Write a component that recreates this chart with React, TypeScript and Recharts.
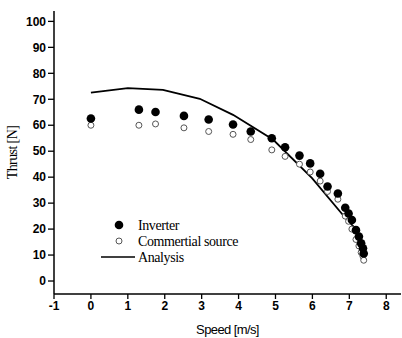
import React from "react";
import {
  ComposedChart,
  Scatter,
  Line,
  XAxis,
  YAxis,
} from "recharts";

const speedPoints = [0, 1.3, 1.75, 2.52, 3.19, 3.85, 4.33, 4.9, 5.26, 5.65, 5.94, 6.21, 6.41, 6.69, 6.89, 6.98, 7.07, 7.18, 7.26, 7.32, 7.37, 7.39];
const inverterThrust = [62.6, 66.0, 65.1, 63.6, 62.2, 60.3, 57.6, 55.0, 51.5, 48.3, 45.3, 41.3, 36.4, 33.7, 28.2, 26.0, 23.5, 19.6, 17.1, 14.5, 12.6, 10.6];
const commercialThrust = [60.0, 60.0, 60.5, 59.0, 57.6, 56.5, 54.5, 50.5, 48.0, 45.0, 42.0, 38.5, 34.5, 31.5, 25.0, 23.0, 20.0, 16.0, 13.5, 11.0, 9.5, 8.0];

const analysisSpeed = [0, 1, 1.95, 2.95, 3.85, 4.94, 5.99, 6.94, 7.21, 7.39];
const analysisThrust = [72.6, 74.3, 73.6, 70.2, 64.0, 54.4, 39.6, 23.5, 19.6, 12.6];

const xTicks = [-1, 0, 1, 2, 3, 4, 5, 6, 7, 8];
const yTicks = [0, 10, 20, 30, 40, 50, 60, 70, 80, 90, 100];
const yMinorTicks = [0, 5, 10, 15, 20, 25, 30, 35, 40, 45, 50, 55, 60, 65, 70, 75, 80, 85, 90, 95, 100];

const inverterData = speedPoints.map((x, i) => ({ x, y: inverterThrust[i] }));
const commercialData = speedPoints.map((x, i) => ({ x, y: commercialThrust[i] }));
const analysisData = analysisSpeed.map((x, i) => ({ x, y: analysisThrust[i] }));

const tickFont = { fontFamily: "Liberation Sans, Arial, sans-serif", fontSize: 12, fontWeight: 700, fill: "#000" };

function LegendBox() {
  return (
    <svg width={150} height={50} style={{ position: "absolute", left: 101, top: 218, overflow: "visible" }}>
      <g fontFamily="Liberation Serif, Times New Roman, serif" fontSize={14} fill="#000" letterSpacing={-0.4}>
        <circle cx={18} cy={7} r={4.3} fill="#000" />
        <text x={37} y={12}>Inverter</text>
        <circle cx={18} cy={23} r={3} fill="#fff" stroke="#555" strokeWidth={1} />
        <text x={37} y={28}>Commertial source</text>
        <line x1={0} y1={39} x2={34} y2={39} stroke="#000" strokeWidth={1.6} />
        <text x={37} y={44}>Analysis</text>
      </g>
    </svg>
  );
}

const RightTick = (props: any) => {
  const { x, y, payload } = props;
  const major = payload.value % 10 === 0;
  return <line x1={x} y1={y} x2={x - (major ? 6 : 3)} y2={y} stroke="#000" strokeWidth={1.3} />;
};

export default function App() {
  return (
    <div style={{ position: "absolute", left: 0, top: 0, width: 402, height: 338, background: "#fff" }}>
      <ComposedChart width={402} height={338} margin={{ top: 11, right: 1, bottom: 0, left: 0 }}>
        <XAxis
          xAxisId="b"
          type="number"
          dataKey="x"
          domain={[-1, 8.4]}
          ticks={xTicks}
          interval={0}
          allowDataOverflow
          height={44}
          tick={tickFont}
          tickSize={5}
          tickLine={{ stroke: "#000", strokeWidth: 1.3 }}
          axisLine={{ stroke: "#000", strokeWidth: 1.5 }}
          label={{ value: "Speed [m/s]", position: "insideBottom", offset: 4, style: { fontFamily: "Liberation Sans, Arial, sans-serif", fontSize: 13, fill: "#000", letterSpacing: -0.6 } }}
        />
        <XAxis xAxisId="t" orientation="top" type="number" domain={[-1, 8.4]} tick={false} tickLine={false} axisLine={{ stroke: "#000", strokeWidth: 1 }} height={0} />
        <YAxis
          yAxisId="l"
          type="number"
          domain={[-5, 104]}
          ticks={yTicks}
          interval={0}
          allowDataOverflow
          width={54}
          tick={tickFont}
          tickSize={6}
          tickLine={{ stroke: "#000", strokeWidth: 1.3 }}
          axisLine={{ stroke: "#000", strokeWidth: 1.5 }}
          label={{ value: "Thrust [N]", angle: -90, position: "insideLeft", offset: 12, style: { fontFamily: "Liberation Serif, Times New Roman, serif", fontSize: 14, fill: "#000", textAnchor: "middle", letterSpacing: -0.6 } }}
        />
        <YAxis
          yAxisId="r"
          orientation="right"
          type="number"
          domain={[-5, 104]}
          ticks={yMinorTicks}
          interval={0}
          width={0}
          tick={<RightTick />}
          tickLine={false}
          axisLine={{ stroke: "#000", strokeWidth: 1 }}
        />
        <Line
          xAxisId="b"
          yAxisId="l"
          data={analysisData}
          dataKey="y"
          type="linear"
          stroke="#000"
          strokeWidth={1.8}
          dot={false}
          isAnimationActive={false}
          legendType="none"
        />
        <Scatter
          xAxisId="b"
          yAxisId="l"
          data={commercialData}
          dataKey="y"
          shape={(p: any) => <circle cx={p.cx} cy={p.cy} r={3} fill="#fff" stroke="#555" strokeWidth={1} />}
          isAnimationActive={false}
        />
        <Scatter
          xAxisId="b"
          yAxisId="l"
          data={inverterData}
          dataKey="y"
          shape={(p: any) => <circle cx={p.cx} cy={p.cy} r={4.3} fill="#000" />}
          isAnimationActive={false}
        />
      </ComposedChart>
      <LegendBox />
    </div>
  );
}
